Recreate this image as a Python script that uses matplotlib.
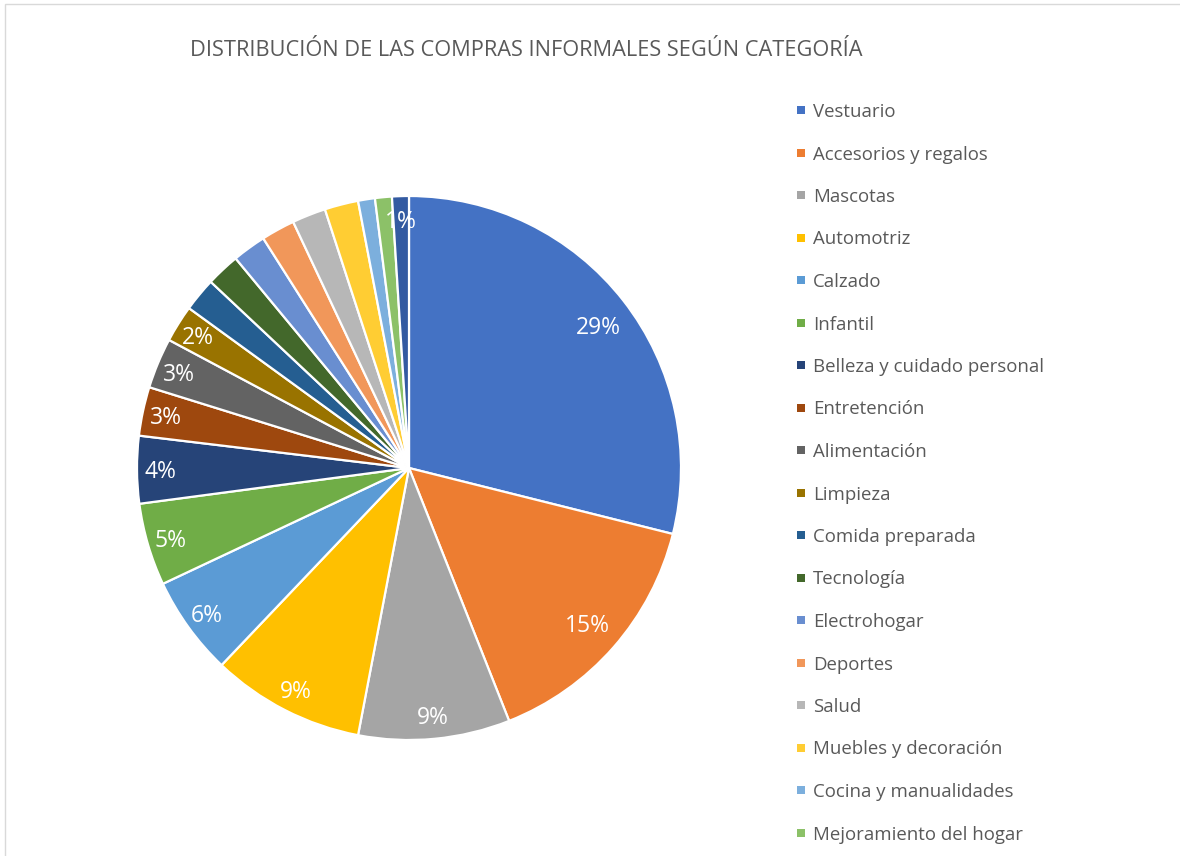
import matplotlib
matplotlib.use("Agg")
import matplotlib.pyplot as plt
from matplotlib.patches import Rectangle
from matplotlib.transforms import offset_copy
import numpy as np

categories = ["Vestuario", "Accesorios y regalos", "Mascotas", "Automotriz", "Calzado",
              "Infantil", "Belleza y cuidado personal", "Entretención", "Alimentación",
              "Limpieza", "Comida preparada", "Tecnología", "Electrohogar", "Deportes",
              "Salud", "Muebles y decoración", "Cocina y manualidades",
              "Mejoramiento del hogar", "Otros"]
values = [28.9, 15.1, 9.0, 9.1, 5.9, 4.9, 4.0, 2.9, 3.0, 2.2, 2, 2, 2, 2, 2, 2, 1, 1, 1]
pct_labels = ["29%", "15%", "9%", "9%", "6%", "5%", "4%", "3%", "3%", "2%",
              "", "", "", "", "", "", "", "", "1%"]
colors = ["#4472C4", "#ED7D31", "#A5A5A5", "#FFC000", "#5B9BD5", "#70AD47",
          "#264478", "#9E480E", "#636363", "#997300", "#255E91", "#43682B",
          "#698ED0", "#F1975A", "#B7B7B7", "#FFCD33", "#7CAFDD", "#8CC168",
          "#335AA1"]

plt.rcParams['font.family'] = ['Open Sans', 'DejaVu Sans']
W, H = 1180, 856
fig = plt.figure(figsize=(W / 100, H / 100), dpi=100)

# chart border
fig.add_artist(Rectangle((5 / W, -0.1), 1.2, (856 - 4) / H + 0.1, transform=fig.transFigure,
                         fill=False, edgecolor="#D9D9D9", linewidth=1.0))

cx, cy, R = 409, 468, 272
ax = fig.add_axes([(cx - R) / W, (H - cy - R) / H, 2 * R / W, 2 * R / H])
wedges, _ = ax.pie(values, colors=colors, startangle=90, counterclock=False,
                   radius=1.0, wedgeprops=dict(edgecolor="white", linewidth=1.6))
ax.set_xlim(-1, 1)
ax.set_ylim(-1, 1)
ax.set_aspect("equal")
ax.axis("off")

lab_tr = offset_copy(ax.transData, fig=fig, x=0, y=-2.5, units="dots")
for i, (w, lab) in enumerate(zip(wedges, pct_labels)):
    if not lab:
        continue
    ang = np.deg2rad((w.theta1 + w.theta2) / 2 - (1.0 if i == 0 else 0))
    r = 0.87 if i < 2 else 0.915
    ax.text(r * np.cos(ang), r * np.sin(ang), lab, ha="center", va="center",
            color="white", fontsize=16.5, transform=lab_tr)

fig.text(526 / W, 1 - 51 / H, "DISTRIBUCIÓN DE LAS COMPRAS INFORMALES SEGÚN CATEGORÍA",
         ha="center", va="center", fontsize=15.7, color="#595959")

# legend (entries below the chart's lower edge are cut off, as in the reference)
y0, dy = 112, 42.5
for i, (cat, col) in enumerate(zip(categories, colors)):
    y = y0 + i * dy
    if y + 8 > H:
        continue
    fig.add_artist(Rectangle((797 / W, 1 - (y + 2) / H), 8 / W, 8 / H,
                             transform=fig.transFigure, facecolor=col, edgecolor="none"))
    fig.text(813 / W, 1 - y / H, cat, ha="left", va="center", fontsize=13.4, color="#595959")

fig.savefig("out.png", dpi=100)
